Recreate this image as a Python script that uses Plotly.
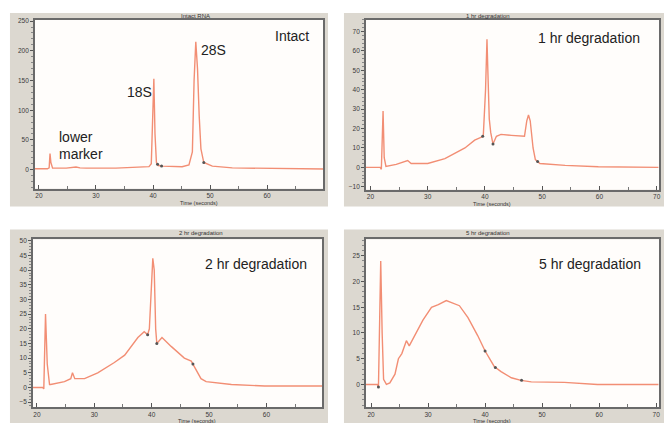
import plotly.graph_objects as go

W, H = 666, 423

# ---------------- data (time in seconds, fluorescence units) ----------------
intact_t = [19.3, 21.5, 21.8, 21.95, 22.1, 22.4, 24.8, 26.0, 26.5, 27.2, 28.3, 33.5, 37.6, 39.3,
            39.7, 39.95, 40.15, 40.35, 40.6, 40.9, 41.7, 45.1, 46.3, 46.9, 47.2, 47.5, 47.8,
            48.1, 48.4, 48.9, 50.4, 53.9, 59.7, 70.0]
intact_v = [1.5, 1.5, 3, 27, 12, 2.5, 2.5, 4, 4.5, 3, 2.5, 2.5, 3.5, 5,
            10, 100, 153, 60, 12, 7, 6, 5, 8, 30, 150, 215, 170,
            90, 35, 12, 6, 3, 2, 1]
intact_mark_t = [40.8, 41.5, 48.9]
intact_mark_v = [9, 6, 12]

hr1_t = [19.2, 21.7, 21.9, 22.05, 22.2, 22.4, 22.7, 24.5, 26.5, 27.1, 30.0, 33.0, 35.3, 36.5,
         38.2, 39.7, 40.1, 40.35, 40.5, 40.75, 41.0, 41.4, 42.0, 42.8, 44.6, 46.4, 46.9,
         47.3, 47.6, 47.9, 48.4, 48.8, 49.6, 54.0, 59.8, 70.3]
hr1_v = [0, 0, -1, 15, 29, 5, 0.5, 1.5, 3.5, 2, 2, 4.5, 8, 10,
         14, 16, 40, 66, 50, 25, 18, 12, 16, 17, 16.5, 16, 16,
         24, 27, 24, 10, 4, 2, 1, 0.3, 0]
hr1_mark_t = [39.6, 41.4, 49.2]
hr1_mark_v = [16, 12, 3]

hr2_t = [19.3, 21.0, 21.2, 21.35, 21.5, 21.8, 22.2, 22.4, 24.8, 25.9, 26.2, 26.6, 28.3, 30.6,
         33.5, 35.3, 37.6, 38.7, 39.3, 39.6, 39.9, 40.2, 40.45, 40.7, 40.9, 41.8, 43.4,
         45.7, 46.9, 47.5, 48.6, 49.5, 53.9, 59.7, 69.8]
hr2_v = [0, 0, -0.5, 15, 25, 8, 1, 1, 2, 3, 5, 3, 3, 5,
         8.5, 11, 17, 19, 18, 20, 35, 44, 40, 20, 15, 17, 14,
         10, 9, 7, 3, 2, 1, 0.5, 0.5]
hr2_mark_t = [39.3, 40.9, 47.2]
hr2_mark_v = [18, 15, 8]

hr5_t = [19.1, 21.1, 21.3, 21.55, 21.7, 21.95, 22.2, 22.7, 23.3, 24.2, 24.8, 25.4, 26.2, 26.7,
         27.7, 29.1, 30.6, 31.8, 33.2, 34.4, 35.5, 37.0, 38.7, 40.0, 41.6, 42.8, 44.6,
         46.3, 48.1, 53.9, 59.7, 70.4]
hr5_v = [0, 0, -0.5, 12, 24, 10, 1, 0, 0.3, 2, 5, 6, 8.5, 7.5,
         9.5, 12.5, 15, 15.5, 16.3, 15.8, 15.3, 13, 9.5, 6.5, 3.5, 2.5, 1.3,
         0.8, 0.5, 0.4, 0, 0]
hr5_mark_t = [21.3, 40.0, 41.8, 46.4]
hr5_mark_v = [-0.5, 6.5, 3.3, 0.8]

titles = ["Intact RNA", "1 hr degradation", "2 hr degradation", "5 hr degradation"]
x_title = "Time (seconds)"

# ---------------- layout geometry (pixels) ----------------
def px_x(p):
    return p / W

def px_y(p):
    return 1 - p / H

panels = [
    dict(t=intact_t, v=intact_v, mt=intact_mark_t, mv=intact_mark_v,
         plot=(35, 324, 17, 187), frame=(10, 329, 10, 205),
         xr=[19.3, 69.8], yr=[-32, 252], dt=50, mdt=10),
    dict(t=hr1_t, v=hr1_v, mt=hr1_mark_t, mv=hr1_mark_v,
         plot=(367, 661, 17, 188), frame=(345, 666, 10, 205),
         xr=[19.2, 70.4], yr=[-11.5, 76], dt=10, mdt=2),
    dict(t=hr2_t, v=hr2_v, mt=hr2_mark_t, mv=hr2_mark_v,
         plot=(33, 323, 238, 407), frame=(10, 329, 228, 423),
         xr=[19.3, 69.7], yr=[-6.7, 50.5], dt=5, mdt=1),
    dict(t=hr5_t, v=hr5_v, mt=hr5_mark_t, mv=hr5_mark_v,
         plot=(367, 661, 238, 407), frame=(345, 666, 228, 423),
         xr=[19.1, 70.5], yr=[-4.4, 28.2], dt=5, mdt=1),
]

fig = go.Figure()
shapes = []
annotations = []
line_color = "#f28e74"
tick_font = dict(family="Liberation Sans, Arial, sans-serif", size=6.5, color="#3a3a3a")

for i, p in enumerate(panels):
    n = "" if i == 0 else str(i + 1)
    x0, x1, y0, y1 = p["plot"]
    fx0, fx1, fy0, fy1 = p["frame"]
    shapes.append(dict(type="rect", xref="paper", yref="paper", layer="below",
                       x0=px_x(fx0), x1=px_x(fx1), y0=px_y(fy1), y1=px_y(fy0),
                       fillcolor="#dcd8d0", line=dict(width=0)))
    shapes.append(dict(type="rect", xref="paper", yref="paper", layer="below",
                       x0=px_x(x0), x1=px_x(x1), y0=px_y(y1), y1=px_y(y0),
                       fillcolor="#fffdfb", line=dict(width=0)))
    fig.add_trace(go.Scatter(x=p["t"], y=p["v"], mode="lines", xaxis="x" + n, yaxis="y" + n,
                             line=dict(color=line_color, width=1.4), showlegend=False,
                             hoverinfo="skip"))
    fig.add_trace(go.Scatter(x=p["mt"], y=p["mv"], mode="markers", xaxis="x" + n, yaxis="y" + n,
                             marker=dict(color="#555", size=3), showlegend=False,
                             hoverinfo="skip"))
    fig.layout["xaxis" + n] = dict(
        domain=[px_x(x0), px_x(x1)], range=p["xr"], anchor="y" + n,
        showgrid=False, zeroline=False, showline=True, linecolor="#6a6a6a", linewidth=1.5,
        mirror=True, ticks="inside", ticklen=4, tickcolor="#555", dtick=10, tick0=0,
        minor=dict(ticks="inside", ticklen=3, dtick=5, tickcolor="#777"),
        tickfont=tick_font, ticklabelstandoff=0)
    fig.layout["yaxis" + n] = dict(
        domain=[px_y(y1), px_y(y0)], range=p["yr"], anchor="x" + n,
        showgrid=False, zeroline=False, showline=True, linecolor="#6a6a6a", linewidth=1.5,
        mirror=True, ticks="outside", ticklen=3, tickcolor="#555", dtick=p["dt"], tick0=0,
        minor=dict(ticks="outside", ticklen=2, dtick=p["mdt"], tickcolor="#888"),
        tickfont=tick_font)
    annotations.append(dict(text=titles[i], xref="paper", yref="paper",
                            x=px_x((x0 + x1) / 2), y=px_y(fy0 + 3.5), showarrow=False,
                            font=dict(family="Liberation Sans, Arial", size=6, color="#333"),
                            yanchor="middle"))
    annotations.append(dict(text=x_title, xref="paper", yref="paper",
                            x=px_x((x0 + x1) / 2), y=px_y(y1 + 10), showarrow=False,
                            font=dict(family="Liberation Sans, Arial", size=5.5, color="#333"),
                            yanchor="top", borderpad=0))

label_font = dict(family="Liberation Sans, Arial, sans-serif", size=14, color="#222")

def label(text, x, y, xanchor="left"):
    annotations.append(dict(text=text, xref="paper", yref="paper", x=px_x(x), y=px_y(y),
                            xanchor=xanchor, yanchor="middle", showarrow=False,
                            font=label_font))

label("Intact", 312, 33, "right")
label("28S", 200, 47)
label("18S", 125, 90)
label("lower", 57, 135)
label("marker", 57, 152)
label("1 hr degradation", 644, 35, "right")
label("2 hr degradation", 310, 263, "right")
label("5 hr degradation", 645, 263, "right")

fig.update_layout(width=W, height=H, margin=dict(l=0, r=0, t=0, b=0),
                  paper_bgcolor="white", plot_bgcolor="rgba(0,0,0,0)",
                  shapes=shapes, annotations=annotations)

fig.write_html("out.html")
